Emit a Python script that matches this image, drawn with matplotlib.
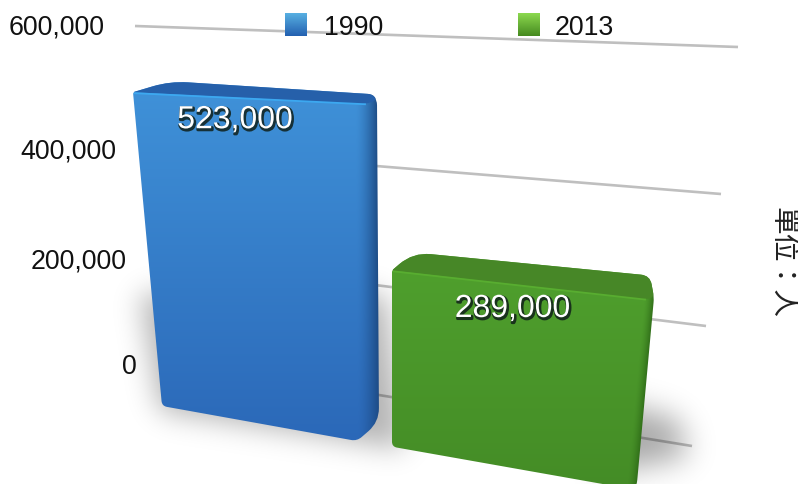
import numpy as np
import matplotlib
matplotlib.use('Agg')
import matplotlib.pyplot as plt
import matplotlib.patheffects as pe
from matplotlib.path import Path
from matplotlib.patches import PathPatch
from matplotlib.colors import to_rgb

# data
years = ['1990', '2013']
values = [523000, 289000]
value_labels = ['523,000', '289,000']
ticks = [0, 200000, 400000, 600000]
tick_labels = ['0', '200,000', '400,000', '600,000']
unit_label = '單位：人'

plt.rcParams['font.family'] = ['Liberation Sans', 'Noto Sans CJK TC', 'DejaVu Sans']

W, H = 798, 485
fig = plt.figure(figsize=(W / 100, H / 100), dpi=100)
ax = fig.add_axes([0, 0, 1, 1])
ax.set_xlim(0, W)
ax.set_ylim(H, 0)
ax.axis('off')

yy, xx = np.mgrid[0:H, 0:W] + 0.5
pix = np.column_stack([xx.ravel(), yy.ravel()])


def rounded(points, radii):
    # closed path through points, corners rounded by radius
    verts, codes = [], []
    n = len(points)
    for i in range(n):
        p = np.array(points[i], float)
        a = np.array(points[i - 1], float)
        b = np.array(points[(i + 1) % n], float)
        r = radii[i]
        p1 = p + (a - p) / np.linalg.norm(a - p) * r
        p2 = p + (b - p) / np.linalg.norm(b - p) * r
        verts += [p1, p, p2]
        codes += [Path.LINETO, Path.CURVE3, Path.CURVE3]
    codes[0] = Path.MOVETO
    verts.append(verts[0])
    codes.append(Path.CLOSEPOLY)
    return Path(verts, codes)


def show_rgba(img, clip=None, zorder=2):
    im = ax.imshow(img, extent=(0, W, H, 0), origin='upper', aspect='auto',
                   zorder=zorder, interpolation='bilinear')
    if clip is not None:
        im.set_clip_path(PathPatch(clip, transform=ax.transData))
    ax.set_xlim(0, W)
    ax.set_ylim(H, 0)


def shadow(points, blur, strength):
    mask = Path(points).contains_points(pix).reshape(H, W).astype(float)
    k = np.exp(-0.5 * (np.arange(-3 * blur, 3 * blur + 1) / blur) ** 2)
    k = k / k.sum()
    mask = np.apply_along_axis(lambda m: np.convolve(m, k, mode='same'), 0, mask)
    mask = np.apply_along_axis(lambda m: np.convolve(m, k, mode='same'), 1, mask)
    img = np.zeros((H, W, 4))
    img[..., 3] = mask * strength
    show_rgba(img, zorder=2)


# gridlines: pixel ends of each tick on the back wall
grid_left = [(170, 362), (165, 260), (142, 148), (135, 27)]
grid_right = [(692, 447), (706, 327), (721, 195), (738, 48)]
tick_y = [367, 262, 152, 28]
tick_x = [137, 127, 116, 105]
for t, a, b in zip(ticks, grid_left, grid_right):
    ax.plot([a[0], b[0]], [a[1], b[1]], color='#bfbfbf', lw=1.9, zorder=1,
            solid_capstyle='butt')
for lab, x, y in zip(tick_labels, tick_x, tick_y):
    ax.text(x, y, lab, ha='right', va='center', fontsize=19.3, color='#111111', zorder=6)

# soft floor shadows
shadow([(140, 295), (385, 295), (405, 450), (160, 412)], 14, 0.30)
shadow([(600, 400), (678, 420), (688, 458), (600, 475)], 15, 0.34)

# bar layout, pixels
left_bottom = [162, 392]
left_top = [133, 392]
right_bottom = [360, 630]
right_top = [365, 645]
scale_left = [0.600, 0.610]     # px per 1000 people
scale_right = [0.644, 0.655]
rim_rise = [11, 18]
rim_run = [37, 21]
rim_right = [9, 23]
rim_end = [8, 5]
rim_round = [5, 9]
side_w = [22, 10]
side_out = [12, 9]
side_bottom = [379, 636]
side_lift = [19, -5]
front_cols = [('#3f91d8', '#2b68b8'), ('#4f9f2d', '#448c26')]
rim_cols = ['#2660aa', '#478727']
edge_cols = ['#3ca8f0', '#58ad30']
side_cols = ['#1b477f', '#2f6c18']
label_dx = [-14, -6]
label_dy = [22, 24]


def base_y(x):
    return 407 + 0.177 * (x - 162)


for i, v in enumerate(values):
    k = v / 1000
    yl = base_y(left_bottom[i])
    yr = base_y(right_bottom[i])
    tl = (left_top[i], yl - k * scale_left[i])
    tr = (right_top[i], yr - k * scale_right[i])
    peak = (tl[0] + rim_run[i], tl[1] - rim_rise[i])
    rim_tr = (right_top[i] + rim_end[i], tr[1] - rim_right[i] - 1)
    out_top = (right_top[i] + side_out[i], tr[1] - 4 + i * 2)
    out_bot = (side_bottom[i], yr - side_lift[i])
    low = (right_bottom[i] - 3 + i * 3, yr)
    bl = (left_bottom[i], yl)
    outline = rounded([tl, peak, rim_tr, out_top, out_bot, low, bl],
                      [2, 18, rim_round[i], 5, 14, 6, 5])

    # front face with a dark side strip towards the right edge
    c0, c1 = np.array(to_rgb(front_cols[i][0])), np.array(to_rgb(front_cols[i][1]))
    t = np.clip((yy - tl[1]) / (yr - tl[1]), 0, 1)[..., None]
    rgb = c0 + (c1 - c0) * t
    edge_x = out_top[0] + (out_bot[0] - out_top[0]) * (yy - out_top[1]) / (out_bot[1] - out_top[1])
    d = np.clip(1 - (edge_x - xx) / side_w[i], 0, 1)[..., None] ** 1.6
    rgb = rgb + (np.array(to_rgb(side_cols[i])) - rgb) * d * 0.9
    img = np.dstack([rgb, np.ones((H, W))])
    show_rgba(img, clip=outline, zorder=3)

    # top rim and its highlight
    rim = rounded([tl, peak, rim_tr, out_top, tr], [2, 18, rim_round[i], 5, 6])
    ax.add_patch(PathPatch(rim, fc=rim_cols[i], ec='none', zorder=4))
    ax.plot([tl[0] + 2, tr[0]], [tl[1] + 1, tr[1]], color=edge_cols[i], lw=1.3, zorder=4)

    # value label
    cx = (tl[0] + tr[0]) / 2 + label_dx[i]
    cy = (tl[1] + tr[1]) / 2 + label_dy[i]
    ax.text(cx, cy, value_labels[i], ha='center', va='center', fontsize=23, color='white',
            zorder=5, path_effects=[
                pe.SimpleLineShadow(offset=(0.8, -1.2), shadow_color='#10201a', alpha=0.85, linewidth=2),
                pe.Normal()])

# legend
legend_x = [285, 518]
legend_cols = [('#58b0e2', '#2360b0'), ('#8cd94f', '#468a20')]
text_x = [324, 555]
for i, year in enumerate(years):
    grad = np.linspace(0, 1, 64)[:, None]
    c0, c1 = np.array(to_rgb(legend_cols[i][0])), np.array(to_rgb(legend_cols[i][1]))
    img = (c0 + (c1 - c0) * grad[..., None]).reshape(64, 1, 3)
    ax.imshow(img, extent=(legend_x[i], legend_x[i] + 22, 37, 14), aspect='auto', zorder=6)
    ax.text(text_x[i], 28, year, ha='left', va='center', fontsize=19.3, color='#111111', zorder=6)
ax.set_xlim(0, W)
ax.set_ylim(H, 0)

# unit label, rotated
ax.text(783, 263, unit_label, rotation=-90, ha='center', va='center', fontsize=20,
        color='#222222', zorder=6, family=['Noto Sans CJK TC', 'DejaVu Sans'])

fig.savefig('out.png', dpi=100)
